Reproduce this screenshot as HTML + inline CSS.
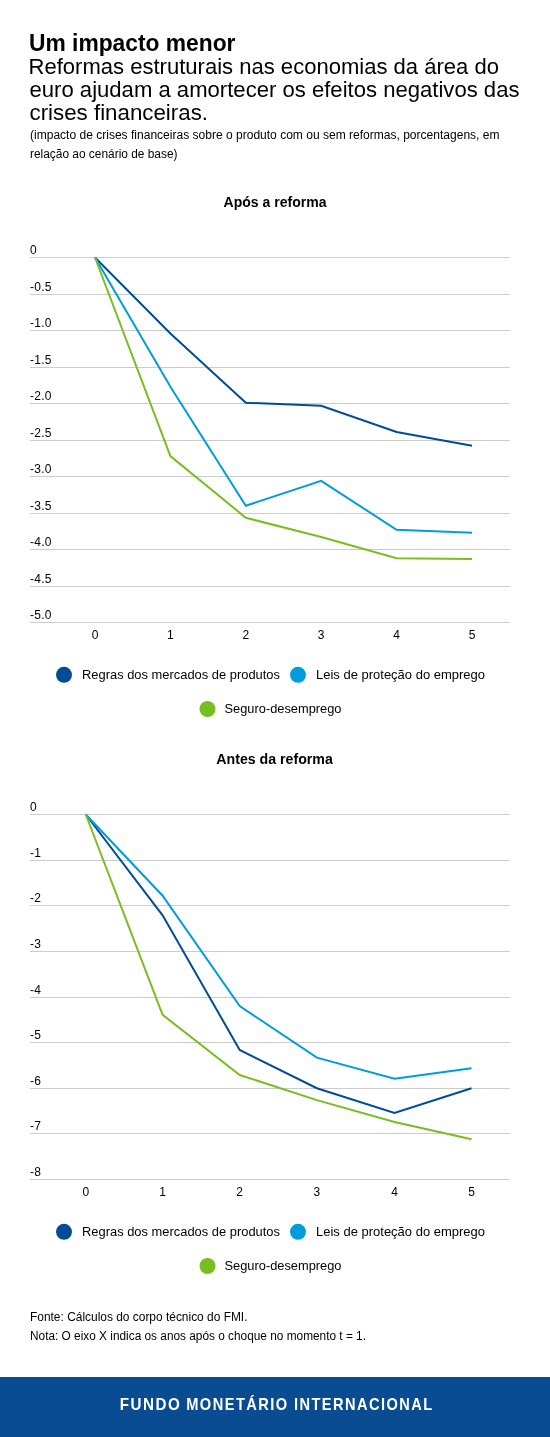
<!DOCTYPE html>
<html><head><meta charset="utf-8"><title>Um impacto menor</title>
<style>
html,body{margin:0;padding:0;background:#fff;width:550px;height:1437px;overflow:hidden}
svg{display:block;font-family:"Liberation Sans", sans-serif;will-change:transform}

</style></head><body>
<svg width="550" height="1437" viewBox="0 0 550 1437">
<text x="29" y="51" font-size="24" font-weight="bold" textLength="206.5" lengthAdjust="spacingAndGlyphs">Um impacto menor</text>
<text x="28.5" y="73.8" font-size="22.5" textLength="470.5" lengthAdjust="spacingAndGlyphs">Reformas estruturais nas economias da área do</text>
<text x="29.5" y="96.7" font-size="22.5" textLength="490" lengthAdjust="spacingAndGlyphs">euro ajudam a amortecer os efeitos negativos das</text>
<text x="29.5" y="119.7" font-size="22.5" textLength="178.5" lengthAdjust="spacingAndGlyphs">crises financeiras.</text>
<text x="30" y="139" font-size="12" textLength="469.5" lengthAdjust="spacingAndGlyphs">(impacto de crises financeiras sobre o produto com ou sem reformas, porcentagens, em</text>
<text x="30" y="158" font-size="12" textLength="147.5" lengthAdjust="spacingAndGlyphs">relação ao cenário de base)</text>
<text x="223.5" y="206.8" font-size="15" font-weight="bold" textLength="103" lengthAdjust="spacingAndGlyphs">Após a reforma</text>
<rect x="30" y="257" width="480" height="1" fill="#cccccc"/>
<text x="30" y="254.0" font-size="12" letter-spacing="0.25">0</text>
<rect x="30" y="294" width="480" height="1" fill="#cccccc"/>
<text x="30" y="290.5" font-size="12" letter-spacing="0.25">-0.5</text>
<rect x="30" y="330" width="480" height="1" fill="#cccccc"/>
<text x="30" y="327.0" font-size="12" letter-spacing="0.25">-1.0</text>
<rect x="30" y="367" width="480" height="1" fill="#cccccc"/>
<text x="30" y="363.5" font-size="12" letter-spacing="0.25">-1.5</text>
<rect x="30" y="403" width="480" height="1" fill="#cccccc"/>
<text x="30" y="400.0" font-size="12" letter-spacing="0.25">-2.0</text>
<rect x="30" y="440" width="480" height="1" fill="#cccccc"/>
<text x="30" y="436.5" font-size="12" letter-spacing="0.25">-2.5</text>
<rect x="30" y="476" width="480" height="1" fill="#cccccc"/>
<text x="30" y="473.0" font-size="12" letter-spacing="0.25">-3.0</text>
<rect x="30" y="513" width="480" height="1" fill="#cccccc"/>
<text x="30" y="509.5" font-size="12" letter-spacing="0.25">-3.5</text>
<rect x="30" y="549" width="480" height="1" fill="#cccccc"/>
<text x="30" y="546.0" font-size="12" letter-spacing="0.25">-4.0</text>
<rect x="30" y="586" width="480" height="1" fill="#cccccc"/>
<text x="30" y="582.5" font-size="12" letter-spacing="0.25">-4.5</text>
<rect x="30" y="622" width="480" height="1" fill="#cccccc"/>
<text x="30" y="619.0" font-size="12" letter-spacing="0.25">-5.0</text>
<text x="95.0" y="639" font-size="12" text-anchor="middle">0</text>
<text x="170.4" y="639" font-size="12" text-anchor="middle">1</text>
<text x="245.8" y="639" font-size="12" text-anchor="middle">2</text>
<text x="321.2" y="639" font-size="12" text-anchor="middle">3</text>
<text x="396.6" y="639" font-size="12" text-anchor="middle">4</text>
<text x="472.0" y="639" font-size="12" text-anchor="middle">5</text>
<polyline points="95.00,257.50 170.40,333.42 245.80,402.77 321.20,405.69 396.60,431.97 472.00,445.84" fill="none" stroke="#004c97" stroke-width="2" stroke-linejoin="miter"/>
<polyline points="95.00,257.50 170.40,386.71 245.80,505.70 321.20,480.88 396.60,529.79 472.00,532.71" fill="none" stroke="#009cde" stroke-width="2" stroke-linejoin="miter"/>
<polyline points="95.00,257.50 170.40,456.06 245.80,517.75 321.20,537.09 396.60,558.26 472.00,558.99" fill="none" stroke="#78be20" stroke-width="2" stroke-linejoin="miter"/>
<circle cx="64" cy="674.8" r="8" fill="#004c97"/>
<text x="82" y="678.9" font-size="12.5" textLength="198" lengthAdjust="spacingAndGlyphs">Regras dos mercados de produtos</text>
<circle cx="298" cy="674.8" r="8" fill="#009cde"/>
<text x="316" y="678.9" font-size="12.5" textLength="169" lengthAdjust="spacingAndGlyphs">Leis de proteção do emprego</text>
<circle cx="207.5" cy="709" r="8" fill="#78be20"/>
<text x="224.5" y="713" font-size="12.5" textLength="117" lengthAdjust="spacingAndGlyphs">Seguro-desemprego</text>
<text x="216.3" y="763.8" font-size="15" font-weight="bold" textLength="116.5" lengthAdjust="spacingAndGlyphs">Antes da reforma</text>
<rect x="30" y="814" width="480" height="1" fill="#cccccc"/>
<text x="30" y="811.0" font-size="12" letter-spacing="0.25">0</text>
<rect x="30" y="860" width="480" height="1" fill="#cccccc"/>
<text x="30" y="856.62" font-size="12" letter-spacing="0.25">-1</text>
<rect x="30" y="905" width="480" height="1" fill="#cccccc"/>
<text x="30" y="902.25" font-size="12" letter-spacing="0.25">-2</text>
<rect x="30" y="951" width="480" height="1" fill="#cccccc"/>
<text x="30" y="947.88" font-size="12" letter-spacing="0.25">-3</text>
<rect x="30" y="997" width="480" height="1" fill="#cccccc"/>
<text x="30" y="993.5" font-size="12" letter-spacing="0.25">-4</text>
<rect x="30" y="1042" width="480" height="1" fill="#cccccc"/>
<text x="30" y="1039.12" font-size="12" letter-spacing="0.25">-5</text>
<rect x="30" y="1088" width="480" height="1" fill="#cccccc"/>
<text x="30" y="1084.75" font-size="12" letter-spacing="0.25">-6</text>
<rect x="30" y="1133" width="480" height="1" fill="#cccccc"/>
<text x="30" y="1130.38" font-size="12" letter-spacing="0.25">-7</text>
<rect x="30" y="1179" width="480" height="1" fill="#cccccc"/>
<text x="30" y="1176.0" font-size="12" letter-spacing="0.25">-8</text>
<text x="85.8" y="1196" font-size="12" text-anchor="middle">0</text>
<text x="162.6" y="1196" font-size="12" text-anchor="middle">1</text>
<text x="239.7" y="1196" font-size="12" text-anchor="middle">2</text>
<text x="316.9" y="1196" font-size="12" text-anchor="middle">3</text>
<text x="394.5" y="1196" font-size="12" text-anchor="middle">4</text>
<text x="471.5" y="1196" font-size="12" text-anchor="middle">5</text>
<polyline points="85.80,814.50 162.60,915.33 239.70,1049.92 316.90,1088.25 394.50,1112.89 471.50,1088.25" fill="none" stroke="#004c97" stroke-width="2" stroke-linejoin="miter"/>
<polyline points="85.80,814.50 162.60,895.71 239.70,1006.12 316.90,1057.68 394.50,1078.67 471.50,1068.17" fill="none" stroke="#009cde" stroke-width="2" stroke-linejoin="miter"/>
<polyline points="85.80,814.50 162.60,1014.79 239.70,1075.02 316.90,1100.11 394.50,1122.01 471.50,1139.35" fill="none" stroke="#78be20" stroke-width="2" stroke-linejoin="miter"/>
<circle cx="64" cy="1231.8" r="8" fill="#004c97"/>
<text x="82" y="1235.9" font-size="12.5" textLength="198" lengthAdjust="spacingAndGlyphs">Regras dos mercados de produtos</text>
<circle cx="298" cy="1231.8" r="8" fill="#009cde"/>
<text x="316" y="1235.9" font-size="12.5" textLength="169" lengthAdjust="spacingAndGlyphs">Leis de proteção do emprego</text>
<circle cx="207.5" cy="1266" r="8" fill="#78be20"/>
<text x="224.5" y="1270" font-size="12.5" textLength="117" lengthAdjust="spacingAndGlyphs">Seguro-desemprego</text>
<text x="30" y="1321.2" font-size="12" textLength="217.5" lengthAdjust="spacingAndGlyphs">Fonte: Cálculos do corpo técnico do FMI.</text>
<text x="30" y="1339.9" font-size="12" textLength="336" lengthAdjust="spacingAndGlyphs">Nota: O eixo X indica os anos após o choque no momento t = 1.</text>
<rect x="0" y="1377" width="550" height="60" fill="#0a4c92"/>
<text x="119.8" y="1410" font-size="16.2" font-weight="bold" fill="#ffffff" textLength="61.5" lengthAdjust="spacingAndGlyphs" letter-spacing="1.6">FUNDO</text>
<text x="186.2" y="1410" font-size="16.2" font-weight="bold" fill="#ffffff" textLength="102.5" lengthAdjust="spacingAndGlyphs" letter-spacing="1.6">MONETÁRIO</text>
<text x="294" y="1410" font-size="16.2" font-weight="bold" fill="#ffffff" textLength="139.5" lengthAdjust="spacingAndGlyphs" letter-spacing="1.6">INTERNACIONAL</text>
</svg>
</body></html>
